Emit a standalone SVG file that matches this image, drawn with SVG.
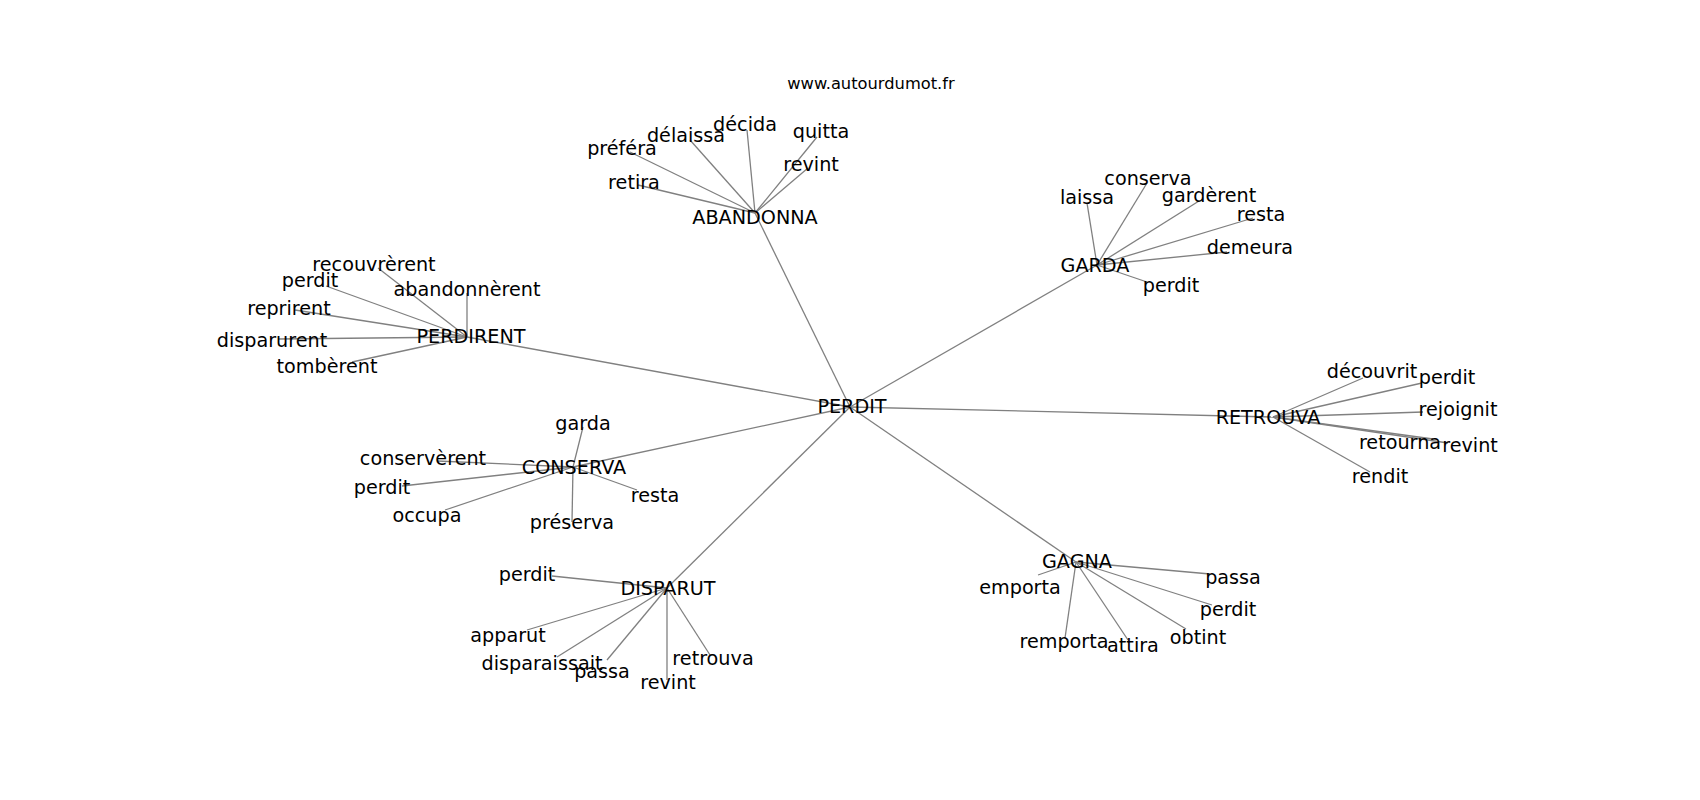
<svg xmlns="http://www.w3.org/2000/svg" width="1700" height="800" viewBox="0 0 1700 800">
<style>
.e{stroke:#808080;stroke-width:1.3;fill:none}
.t{font-family:"DejaVu Sans",sans-serif;font-size:19.2px;fill:#000;text-anchor:middle}
.ttl{font-family:"DejaVu Sans",sans-serif;font-size:16.3px;fill:#000;text-anchor:middle}
</style>
<rect width="1700" height="800" fill="#fff"/>
<text class="ttl" x="871" y="88.5">www.autourdumot.fr</text>
<g id="edges">
<line class="e" x1="850" y1="407" x2="755" y2="213"/>
<line class="e" x1="850" y1="407" x2="1097" y2="265"/>
<line class="e" x1="850" y1="407" x2="467" y2="337"/>
<line class="e" x1="850" y1="407" x2="1273" y2="417"/>
<line class="e" x1="850" y1="407" x2="573" y2="467"/>
<line class="e" x1="850" y1="407" x2="667" y2="588"/>
<line class="e" x1="850" y1="407" x2="1076" y2="562"/>
<line class="e" x1="755" y1="213" x2="747" y2="130"/>
<line class="e" x1="755" y1="213" x2="690" y2="140"/>
<line class="e" x1="755" y1="213" x2="630" y2="152"/>
<line class="e" x1="755" y1="213" x2="638" y2="185"/>
<line class="e" x1="755" y1="213" x2="817" y2="137"/>
<line class="e" x1="755" y1="213" x2="808" y2="168"/>
<line class="e" x1="1097" y1="265" x2="1147" y2="183"/>
<line class="e" x1="1097" y1="265" x2="1087" y2="203"/>
<line class="e" x1="1097" y1="265" x2="1199" y2="201"/>
<line class="e" x1="1097" y1="265" x2="1253" y2="218"/>
<line class="e" x1="1097" y1="265" x2="1227" y2="252"/>
<line class="e" x1="1097" y1="265" x2="1147" y2="282"/>
<line class="e" x1="467" y1="337" x2="378" y2="268"/>
<line class="e" x1="467" y1="337" x2="326" y2="286"/>
<line class="e" x1="467" y1="337" x2="467" y2="293"/>
<line class="e" x1="467" y1="337" x2="295" y2="310"/>
<line class="e" x1="467" y1="337" x2="278" y2="339"/>
<line class="e" x1="467" y1="337" x2="352" y2="362"/>
<line class="e" x1="573" y1="467" x2="583" y2="427"/>
<line class="e" x1="573" y1="467" x2="437" y2="461"/>
<line class="e" x1="573" y1="467" x2="402" y2="486"/>
<line class="e" x1="573" y1="467" x2="445" y2="510"/>
<line class="e" x1="573" y1="467" x2="637" y2="490"/>
<line class="e" x1="573" y1="467" x2="572" y2="522"/>
<line class="e" x1="667" y1="588" x2="552" y2="576"/>
<line class="e" x1="667" y1="588" x2="527" y2="630"/>
<line class="e" x1="667" y1="588" x2="557" y2="657"/>
<line class="e" x1="667" y1="588" x2="607" y2="660"/>
<line class="e" x1="667" y1="588" x2="667" y2="680"/>
<line class="e" x1="667" y1="588" x2="710" y2="655"/>
<line class="e" x1="1076" y1="562" x2="1038" y2="575"/>
<line class="e" x1="1076" y1="562" x2="1210" y2="574"/>
<line class="e" x1="1076" y1="562" x2="1212" y2="605"/>
<line class="e" x1="1076" y1="562" x2="1186" y2="629"/>
<line class="e" x1="1076" y1="562" x2="1128" y2="640"/>
<line class="e" x1="1076" y1="562" x2="1065" y2="638"/>
<line class="e" x1="1273" y1="417" x2="1363" y2="378"/>
<line class="e" x1="1273" y1="417" x2="1422" y2="383"/>
<line class="e" x1="1273" y1="417" x2="1423" y2="412"/>
<line class="e" x1="1273" y1="417" x2="1433" y2="439"/>
<line class="e" x1="1273" y1="417" x2="1448" y2="443"/>
<line class="e" x1="1273" y1="417" x2="1370" y2="472"/>
</g>
<g id="nodes" transform="translate(0,1.3)">
<g id="n-perdit"><text class="t" x="852" y="412">PERDIT</text></g>
<g id="n-abandonna"><text class="t" x="755" y="223">ABANDONNA</text></g>
<g id="n-garda"><text class="t" x="1095" y="271">GARDA</text></g>
<g id="n-perdirent"><text class="t" x="471" y="342">PERDIRENT</text></g>
<g id="n-retrouva"><text class="t" x="1268" y="423">RETROUVA</text></g>
<g id="n-conserva"><text class="t" x="574" y="473">CONSERVA</text></g>
<g id="n-disparut"><text class="t" x="668" y="594">DISPARUT</text></g>
<g id="n-gagna"><text class="t" x="1077" y="567">GAGNA</text></g>
<g id="n-ab-decida"><text class="t" x="745" y="130">décida</text></g>
<g id="n-ab-delaissa"><text class="t" x="686" y="141">délaissa</text></g>
<g id="n-ab-prefera"><text class="t" x="622" y="154">préféra</text></g>
<g id="n-ab-retira"><text class="t" x="634" y="188">retira</text></g>
<g id="n-ab-quitta"><text class="t" x="821" y="137">quitta</text></g>
<g id="n-ab-revint"><text class="t" x="811" y="170">revint</text></g>
<g id="n-ga-conserva"><text class="t" x="1148" y="184">conserva</text></g>
<g id="n-ga-laissa"><text class="t" x="1087" y="203">laissa</text></g>
<g id="n-ga-garderent"><text class="t" x="1209" y="201">gardèrent</text></g>
<g id="n-ga-resta"><text class="t" x="1261" y="220">resta</text></g>
<g id="n-ga-demeura"><text class="t" x="1250" y="253">demeura</text></g>
<g id="n-ga-perdit"><text class="t" x="1171" y="291">perdit</text></g>
<g id="n-pe-recouvrerent"><text class="t" x="374" y="270">recouvrèrent</text></g>
<g id="n-pe-perdit"><text class="t" x="310" y="286">perdit</text></g>
<g id="n-pe-abandonnerent"><text class="t" x="467" y="295">abandonnèrent</text></g>
<g id="n-pe-reprirent"><text class="t" x="289" y="314">reprirent</text></g>
<g id="n-pe-disparurent"><text class="t" x="272" y="346">disparurent</text></g>
<g id="n-pe-tomberent"><text class="t" x="327" y="372">tombèrent</text></g>
<g id="n-co-garda"><text class="t" x="583" y="429">garda</text></g>
<g id="n-co-conserverent"><text class="t" x="423" y="464">conservèrent</text></g>
<g id="n-co-perdit"><text class="t" x="382" y="493">perdit</text></g>
<g id="n-co-occupa"><text class="t" x="427" y="521">occupa</text></g>
<g id="n-co-resta"><text class="t" x="655" y="501">resta</text></g>
<g id="n-co-preserva"><text class="t" x="572" y="528">préserva</text></g>
<g id="n-di-perdit"><text class="t" x="527" y="580">perdit</text></g>
<g id="n-di-apparut"><text class="t" x="508" y="641">apparut</text></g>
<g id="n-di-disparaissait"><text class="t" x="542" y="669">disparaissait</text></g>
<g id="n-di-passa"><text class="t" x="602" y="677">passa</text></g>
<g id="n-di-revint"><text class="t" x="668" y="688">revint</text></g>
<g id="n-di-retrouva"><text class="t" x="713" y="664">retrouva</text></g>
<g id="n-gg-emporta"><text class="t" x="1020" y="593">emporta</text></g>
<g id="n-gg-passa"><text class="t" x="1233" y="583">passa</text></g>
<g id="n-gg-perdit"><text class="t" x="1228" y="615">perdit</text></g>
<g id="n-gg-obtint"><text class="t" x="1198" y="643">obtint</text></g>
<g id="n-gg-attira"><text class="t" x="1133" y="651">attira</text></g>
<g id="n-gg-remporta"><text class="t" x="1064" y="647">remporta</text></g>
<g id="n-re-decouvrit"><text class="t" x="1372" y="377">découvrit</text></g>
<g id="n-re-perdit"><text class="t" x="1447" y="383">perdit</text></g>
<g id="n-re-rejoignit"><text class="t" x="1458" y="415">rejoignit</text></g>
<g id="n-re-retourna"><text class="t" x="1400" y="448">retourna</text></g>
<g id="n-re-revint"><text class="t" x="1470" y="451">revint</text></g>
<g id="n-re-rendit"><text class="t" x="1380" y="482">rendit</text></g>
</g>
</svg>
